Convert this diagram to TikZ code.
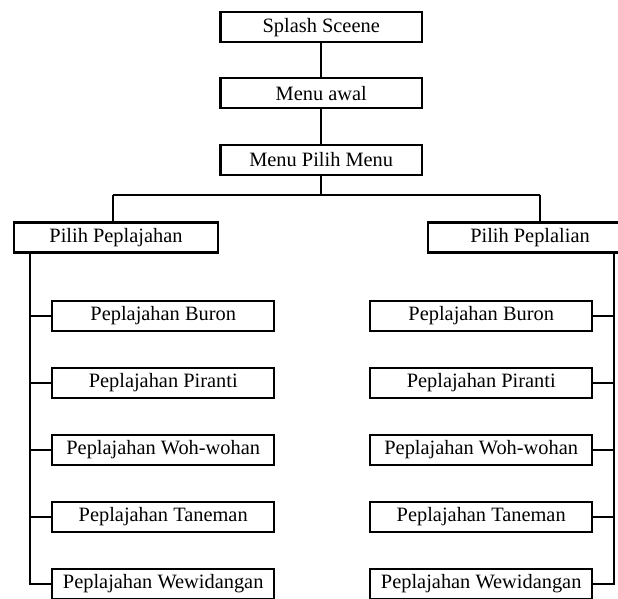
\documentclass[tikz,border=0pt]{standalone}
\usepackage{fontspec}
\setmainfont{Liberation Serif}
\usepackage{tikz}
\usetikzlibrary{positioning}
\usetikzlibrary{calc}

\begin{document}
\begin{tikzpicture}[
	menubox/.style  = {draw, line width=1.7pt, rectangle, inner sep=0pt, minimum width=5.03cm, minimum height=0.75cm, font=\fontsize{14.5}{16}\selectfont},
	pilihbox/.style = {menubox, minimum width=5.10cm},
	isibox/.style   = {menubox, minimum width=5.55cm},
	link/.style     = {line width=1.7pt}
	]

	% ---------------------
	% Frame
	\useasboundingbox (0.00cm,0.00cm) rectangle (15.45cm,-14.95cm);
	\clip (0.00cm,0.00cm) rectangle (15.45cm,-14.95cm);

	% ---------------------
	% Top column
	\coordinate (Top) at (8.03cm,-0.68cm);
	\path (Top)    +(0.00cm,-1.65cm) coordinate (Awal);
	\path (Awal)   +(0.00cm,-1.67cm) coordinate (Pilih);
	\path (Pilih)  +(0.00cm,-0.87cm) coordinate (Branch);

	\node[menubox] (splash) at (Top)   {Splash Sceene};
	\node[menubox] (awal)   at (Awal)  {Menu awal};
	\node[menubox] (pilih)  at (Pilih) {Menu Pilih Menu};

	% ---------------------
	% Second level
	\node[pilihbox] (sinau) at (2.90cm,-5.94cm)  {Pilih Peplajahan};
	\node[pilihbox] (lalian) at (13.25cm,-5.94cm) {Pilih Peplalian};

	\path (Branch -| sinau.north)  +(-0.08cm,0.00cm) coordinate (DropL);
	\path (Branch -| lalian.north) +(+0.25cm,0.00cm) coordinate (DropR);

	% ---------------------
	% Spines
	\coordinate (SpineL) at (0.75cm,-5.94cm);
	\coordinate (SpineR) at (15.35cm,-5.94cm);

	% ---------------------
	% Lessons, both columns
	\foreach \name/\txt [count=\i] in {buron/Buron, piranti/Piranti, woh/Woh-wohan, tanem/Taneman, wewi/Wewidangan}{
		\node[isibox] (L\name) at (4.08cm,{-7.90cm-(\i-1)*1.675cm})  {Peplajahan \txt};
		\node[isibox] (R\name) at (12.03cm,{-7.90cm-(\i-1)*1.675cm}) {Peplajahan \txt};
		\draw[link] (SpineL |- sinau.south)  |- (L\name.west);
		\draw[link] (SpineR |- lalian.south) |- (R\name.east);
	}

	% ---------------------
	% Links
	\draw[link] (splash) -- (awal);
	\draw[link] (awal)   -- (pilih);
	\draw[link] (pilih)  -- (Branch);
	\draw[link] (DropL) -- (DropR);
	\draw[link] (DropL) -- (DropL |- sinau.north);
	\draw[link] (DropR) -- (DropR |- lalian.north);

\end{tikzpicture}
\end{document}
